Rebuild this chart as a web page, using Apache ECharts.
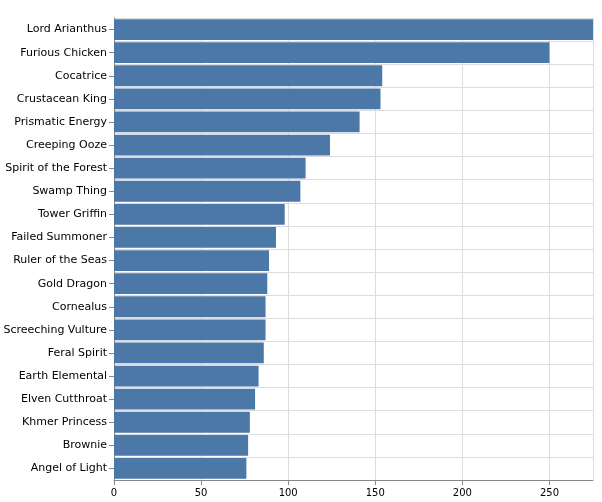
<!DOCTYPE html>
<html>
<head>
<meta charset="utf-8">
<script src="https://cdn.jsdelivr.net/npm/echarts@6/dist/echarts.min.js"></script>
<style>html,body{margin:0;padding:0;background:#fff}#chart{width:602px;height:502px}</style>
</head>
<body>
<div id="chart"></div>
<script>
var names = ['Lord Arianthus', 'Furious Chicken', 'Cocatrice', 'Crustacean King', 'Prismatic Energy',
    'Creeping Ooze', 'Spirit of the Forest', 'Swamp Thing', 'Tower Griffin', 'Failed Summoner',
    'Ruler of the Seas', 'Gold Dragon', 'Cornealus', 'Screeching Vulture', 'Feral Spirit',
    'Earth Elemental', 'Elven Cutthroat', 'Khmer Princess', 'Brownie', 'Angel of Light'];
var counts = [275, 250, 154, 153, 141, 124, 110, 107, 98, 93, 89, 88, 87, 87, 86, 83, 81, 78, 77, 76];

var myChart = echarts.init(document.getElementById('chart'));
var option = {
    animation: false,
    grid: {left: 114, right: 9, top: 18, bottom: 22},
    xAxis: {
        type: 'value',
        min: 0,
        max: 275,
        interval: 50,
        axisLine: {show: true, lineStyle: {color: '#888'}},
        axisTick: {show: true, length: 5, lineStyle: {color: '#888'}},
        axisLabel: {color: '#000', fontSize: 10, fontFamily: 'DejaVu Sans', showMaxLabel: false},
        splitLine: {lineStyle: {color: '#ddd'}}
    },
    yAxis: {
        type: 'category',
        inverse: true,
        data: names,
        axisLine: {lineStyle: {color: '#888'}},
        axisTick: {show: true, length: 5, alignWithLabel: true, lineStyle: {color: '#888'}},
        axisLabel: {color: '#000', fontSize: 11, fontFamily: 'DejaVu Sans', margin: 7},
        splitLine: {show: true, lineStyle: {color: '#ddd'}}
    },
    series: [{
        type: 'bar',
        data: counts,
        barCategoryGap: '10%',
        itemStyle: {color: '#4c78a8'}
    }]
};
myChart.setOption(option, true);
</script>
</body>
</html>
